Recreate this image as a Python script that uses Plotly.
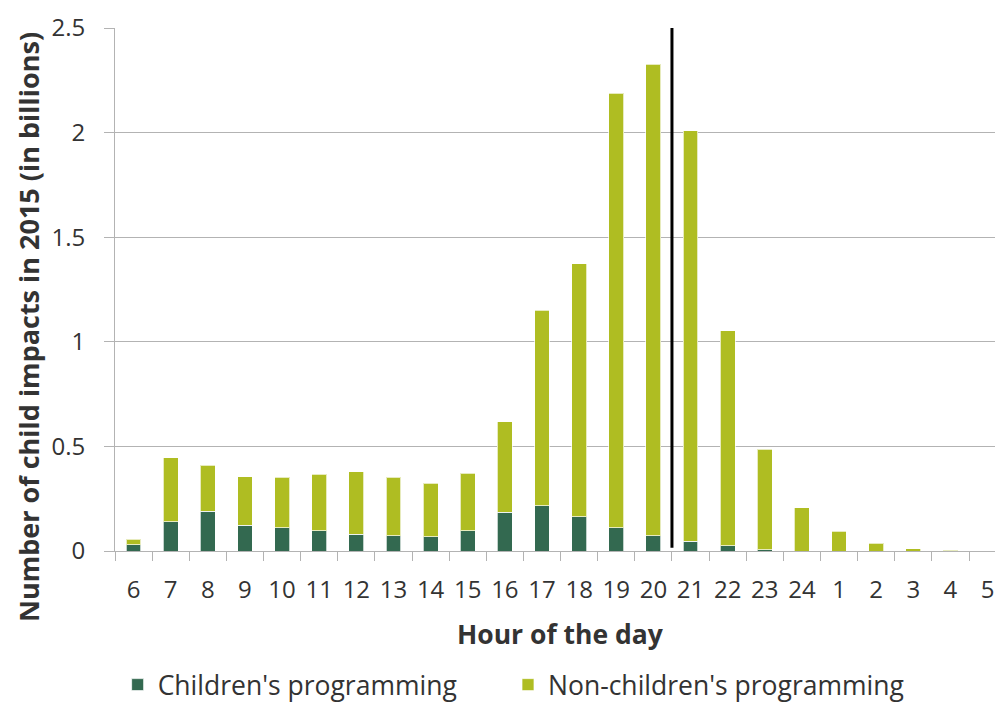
import plotly.graph_objects as go

hours = ["6", "7", "8", "9", "10", "11", "12", "13", "14", "15", "16", "17",
         "18", "19", "20", "21", "22", "23", "24", "1", "2", "3", "4", "5"]
children = [0.029, 0.140, 0.191, 0.124, 0.111, 0.096, 0.081, 0.073, 0.068, 0.097,
            0.186, 0.217, 0.164, 0.111, 0.072, 0.046, 0.024, 0.006, 0.0, 0.0,
            0.0, 0.0, 0.0, 0.0]
totals = [0.057, 0.446, 0.410, 0.354, 0.352, 0.368, 0.379, 0.352, 0.325, 0.371,
          0.617, 1.152, 1.372, 2.188, 2.327, 2.010, 1.052, 0.486, 0.206, 0.094,
          0.037, 0.010, 0.004, 0.0]
non_children = [round(t - c, 3) for t, c in zip(totals, children)]

DARK = "#336950"
LIGHT = "#AFBD22"
GRID = "#b3b3b3"
TEXT = "#333333"
FONT = "Open Sans"

fig = go.Figure()
fig.add_trace(go.Bar(x=hours, y=children, name="Children's programming", legend="legend",
                     marker=dict(color=DARK, line=dict(color="rgba(255,255,255,0.7)", width=1))))
fig.add_trace(go.Bar(x=hours, y=non_children, name="Non-children's programming", legend="legend2",
                     marker=dict(color=LIGHT, line=dict(color="rgba(255,255,255,0.7)", width=1))))

fig.add_shape(type="line", xref="x", yref="y", x0=14.5, x1=14.5, y0=0.015, y1=2.5,
              line=dict(color="black", width=3))

fig.add_annotation(text="<b>Number of child impacts in 2015 (in billions)</b>", textangle=-90,
                   xref="paper", yref="paper", x=-0.099, y=0.428, xanchor="center", yanchor="middle",
                   showarrow=False, font=dict(size=27, color=TEXT))
fig.add_annotation(text="<b>Hour of the day</b>",
                   xref="paper", yref="paper", x=0.5057, y=-0.1587, xanchor="center", yanchor="middle",
                   showarrow=False, font=dict(size=26.5, color=TEXT))

legend_common = dict(orientation="h", xanchor="left", y=-0.256, yanchor="middle",
                     font=dict(size=26.5, color=TEXT), bgcolor="rgba(0,0,0,0)")

fig.update_layout(
    barmode="stack",
    bargap=0.6,
    width=995, height=706,
    margin=dict(l=115, r=0, t=28, b=155, autoexpand=False),
    plot_bgcolor="white", paper_bgcolor="white",
    font=dict(family=FONT, size=24, color=TEXT),
    showlegend=True,
    legend=dict(x=0.003, **legend_common),
    legend2=dict(x=0.4466, **legend_common),
    xaxis=dict(type="category", range=[-0.5, 23.2], tickson="boundaries",
               ticks="outside", ticklen=9, tickcolor=GRID, tickwidth=1,
               showline=True, linecolor=GRID, linewidth=1, automargin=False,
               ticklabeloverflow="allow",
               tickfont=dict(size=24, color=TEXT), ticklabelstandoff=17),
    yaxis=dict(range=[0, 2.5], dtick=0.5, tickformat="~g", showgrid=True, gridcolor=GRID, gridwidth=1,
               ticks="outside", ticklen=10, tickcolor=GRID, showline=True, linecolor=GRID, linewidth=1,
               zeroline=False, automargin=False, tickfont=dict(size=24, color=TEXT), ticklabelstandoff=14),
)

fig.write_html("out.html", config={"displayModeBar": False},
               post_script="document.body.style.margin='0';")
